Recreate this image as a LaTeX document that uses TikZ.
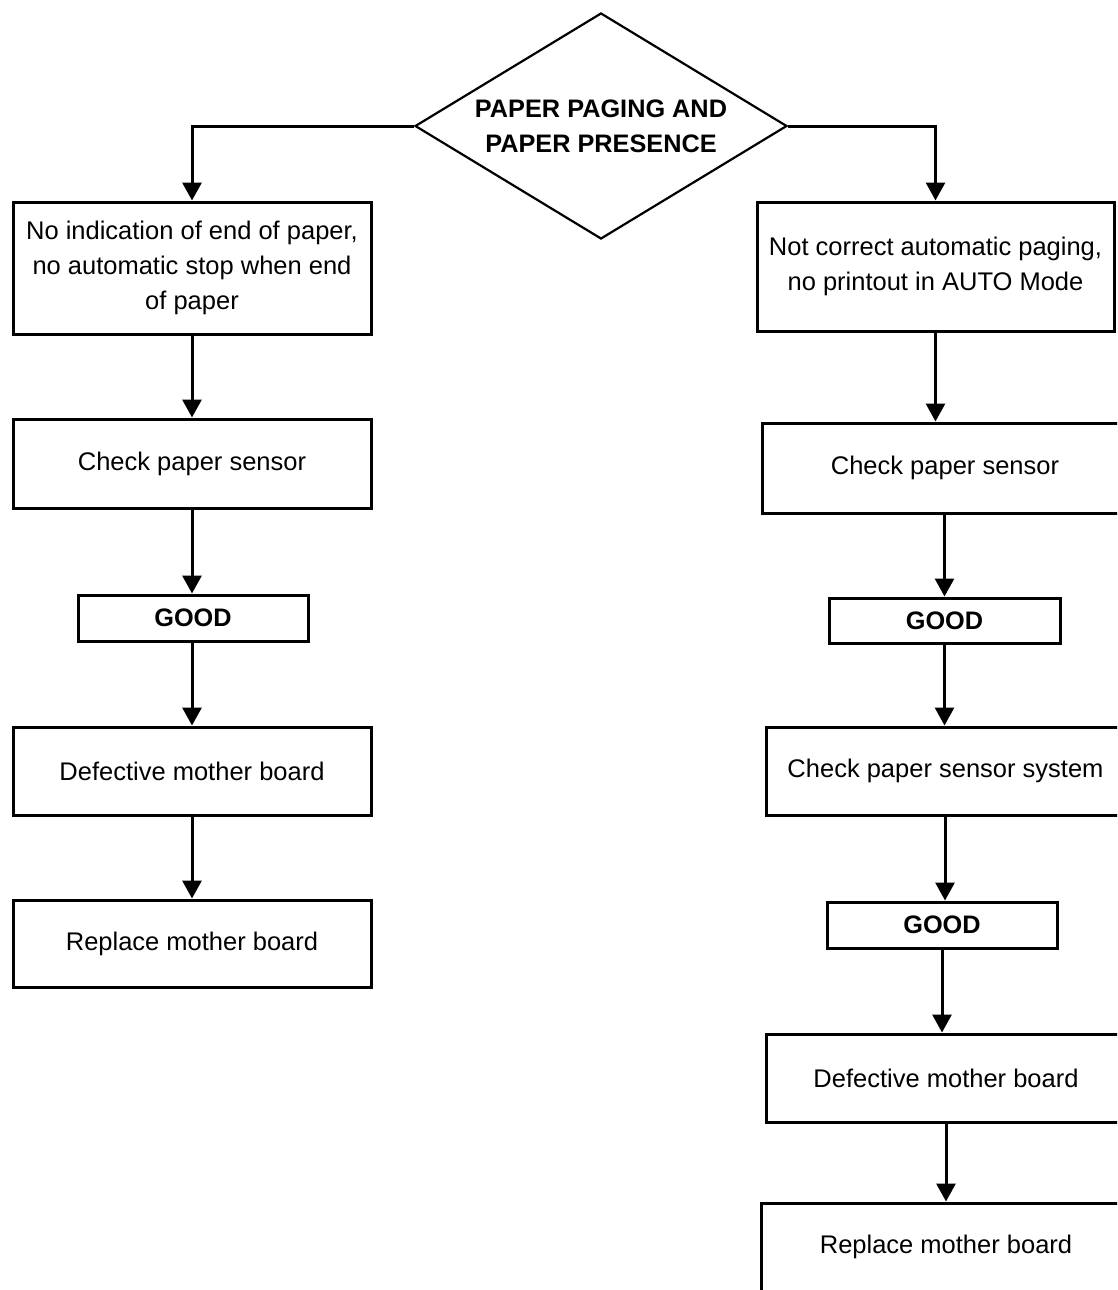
\documentclass[tikz,border=0pt]{standalone}
\usepackage{fontspec}
\setmainfont{Liberation Sans}
\usetikzlibrary{shapes.geometric,arrows.meta}

\begin{document}
\begin{tikzpicture}[x=1pt,y=-1pt,
  every node/.style={font=\fontsize{25.5}{35}\selectfont, align=center, inner sep=0pt},
  box/.style={draw, line width=3pt, rectangle},
  goodbox/.style={box, minimum width=230, minimum height=46, font=\fontsize{25.3}{35}\selectfont\bfseries},
  decision/.style={draw, line width=2.2pt, diamond, aspect=1.646, minimum width=372, minimum height=226,
                   font=\fontsize{25.3}{35}\selectfont\bfseries},
  flow/.style={line width=3pt, -{Triangle[length=18pt,width=19pt]}}]

\useasboundingbox (0,0) rectangle (1117,1290);
\clip (0,0) rectangle (1117,1290);
\fill[white] (0,0) rectangle (1117,1290);

% decision at the top
\node[decision] (D) at (601,126) {PAPER PAGING AND\\PAPER PRESENCE};

% left column
\node[box, minimum width=358, minimum height=132] (L1) at (192,268)
  {No indication of end of paper,\\no automatic stop when end\\of paper};
\node[box, minimum width=358, minimum height=89] (L2) at (192,463.5) {Check paper sensor};
\node[goodbox] (LG) at (193,618) {GOOD};
\node[box, minimum width=358, minimum height=88] (L3) at (192,771) {Defective mother board};
\node[box, minimum width=358, minimum height=87] (L4) at (192,943.5) {Replace mother board};

% right column
\node[box, minimum width=357, minimum height=129] (R1) at (935.5,266.5)
  {Not correct automatic paging,\\no printout in AUTO Mode};
\node[box, minimum width=366, minimum height=90] (R2) at (945,468) {Check paper sensor};
\node[goodbox, minimum width=231, minimum height=45] (RG1) at (944.5,620.5) {GOOD};
\node[box, minimum width=359, minimum height=88] (R3) at (945.5,771) {Check paper sensor system};
\node[goodbox] (RG2) at (942,925) {GOOD};
\node[box, minimum width=360, minimum height=88] (R4) at (946,1078) {Defective mother board};
\node[box, minimum width=370, minimum height=88] (R5) at (946,1247) {Replace mother board};

% connectors from the decision
\draw[flow] (D.west) -- (L1.north |- D.west) -- (L1.north);
\draw[flow] (D.east) -- (R1.north |- D.east) -- (R1.north);

% left chain
\draw[flow] (L1.south) -- (L2.north);
\draw[flow] (L2.south) -- (L2.south |- LG.north);
\draw[flow] (LG.south -| L3.north) -- (L3.north);
\draw[flow] (L3.south) -- (L4.north);

% right chain
\draw[flow] (R1.south) -- (R1.south |- R2.north);
\draw[flow] (R2.south -| RG1.north) -- (RG1.north);
\draw[flow] (RG1.south) -- (RG1.south |- R3.north);
\draw[flow] (R3.south -| RG2.north) ++(3,0) coordinate (r3out) -- (r3out |- RG2.north);
\draw[flow] (RG2.south) -- (RG2.south |- R4.north);
\draw[flow] (R4.south) -- (R4.south |- R5.north);
\end{tikzpicture}
\end{document}
